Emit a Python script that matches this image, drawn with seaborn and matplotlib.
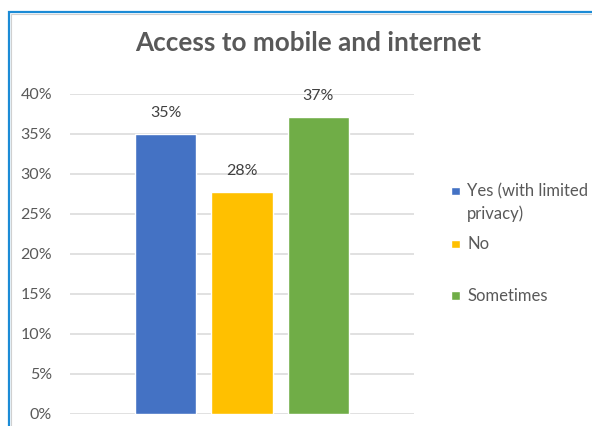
import matplotlib
matplotlib.use("Agg")
import matplotlib.pyplot as plt
from matplotlib.patches import Rectangle
from matplotlib.legend_handler import HandlerPatch
from matplotlib.ticker import PercentFormatter
import pandas as pd
import seaborn as sns

# Survey answers and their shares
answers = ["Yes (with limited privacy)", "No", "Sometimes"]
shares = [0.35, 0.2775, 0.371]
legend_labels = ["Yes (with limited\nprivacy)", "No\n", "Sometimes"]
y_ticks = [0.0, 0.05, 0.10, 0.15, 0.20, 0.25, 0.30, 0.35, 0.40]
colors = ["#4472C4", "#FFC000", "#70AD47"]
title = "Access to mobile and internet"

df = pd.DataFrame({"answer": answers, "share": shares})

sns.set_theme(style="white")
plt.rcParams["font.family"] = ["Lato", "DejaVu Sans"]
text_gray = "#595959"

W, H = 592, 426
fig = plt.figure(figsize=(W / 100, H / 100), dpi=100)
ax = fig.add_axes([70 / W, (H - 413.7) / H, 344 / W, 320 / H])

sns.barplot(data=df, x="answer", y="share", hue="answer", order=answers,
            hue_order=answers, palette=colors, width=0.8, dodge=False,
            saturation=1, legend=True, ax=ax)

ax.set_xlim(-1.25, 3.25)
ax.set_ylim(0, 0.40)
ax.set_yticks(y_ticks)
ax.yaxis.set_major_formatter(PercentFormatter(1.0, decimals=0))
ax.set_xticks([])
ax.set_xlabel("")
ax.set_ylabel("")
ax.tick_params(axis="y", length=0, pad=13, labelsize=11.5, labelcolor=text_gray)
for s in ax.spines.values():
    s.set_visible(False)
ax.grid(axis="y", color="#D9D9D9", linewidth=1.1)
ax.set_axisbelow(True)

# value labels above each bar
for patch, v in zip(ax.patches, shares):
    ax.annotate(f"{v:.0%}", (patch.get_x() + patch.get_width() / 2, v),
                xytext=(0, 10), textcoords="offset points", ha="center",
                va="bottom", fontsize=11.5, color="#404040")

LEG_FS = 12
LINE_SP = 1.45
# half a text line, in points: keeps the key square level with the first line
LINE_SHIFT = 0.5 * LEG_FS * LINE_SP * 1.0


def top_square(legend, orig_handle, xdescent, ydescent, width, height, fontsize):
    size = width
    y = -ydescent + (height - size) / 2 + LINE_SHIFT
    return Rectangle((-xdescent, y), size, size)


handles, _ = ax.get_legend_handles_labels()
leg = ax.legend(handles, legend_labels, loc="upper left",
                bbox_to_anchor=(443 / W, (H - 175) / H),
                bbox_transform=fig.transFigure, frameon=False,
                fontsize=LEG_FS, handlelength=0.5, handleheight=0.5,
                handletextpad=0.45, labelspacing=0.85, borderpad=0,
                handler_map={h: HandlerPatch(patch_func=top_square)
                             for h in handles[:2]})
for t in leg.get_texts():
    t.set_color(text_gray)
    t.set_linespacing(LINE_SP)

fig.text(308.5 / W, (H - 43) / H, title, ha="center", va="center",
         fontsize=18.8, fontweight="bold", color=text_gray)

# chart frame
fig.patches.append(Rectangle((10.5 / W, -0.1), 1.2, (H - 13.5) / H + 0.1,
                             transform=fig.transFigure, fill=False,
                             edgecolor="#D0D0D0", linewidth=0.8))
fig.patches.append(Rectangle((9 / W, -0.1), 1.2, (H - 12) / H + 0.1,
                             transform=fig.transFigure, fill=False,
                             edgecolor="#1B8BD6", linewidth=1.6))

fig.savefig("out.png", dpi=100)
